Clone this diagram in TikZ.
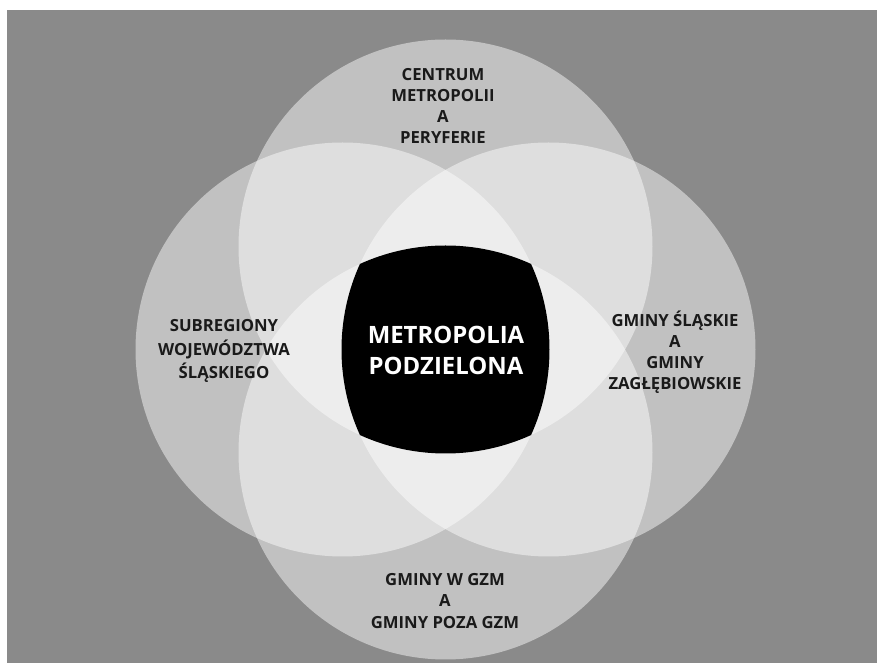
\documentclass[tikz,border=0pt]{standalone}
\usepackage{fontspec}
\setmainfont{Open Sans}
\definecolor{bggray}{RGB}{138,138,138}
\definecolor{ink}{RGB}{26,26,26}
\tikzset{
    ring/.style={fill=white, fill opacity=0.47},
    tag/.style={align=center, text=ink, inner sep=0pt,
        font=\bfseries\fontsize{9.5}{12}\selectfont},
    core/.style={align=center, text=white, inner sep=0pt,
        font=\bfseries\fontsize{13.6}{17.6}\selectfont}
}
\begin{document}
\begin{tikzpicture}[x=0.02cm, y=0.02cm]
    \useasboundingbox (0,0) rectangle (877,663);
    \fill[white] (0,0) rectangle (877,663);
    \fill[bggray] (7,0) rectangle (877,653);
    \foreach \dx/\dy in {0/103, 0/-103, -103/0, 103/0}
        \fill[ring] (445.5+\dx,313.5+\dy) circle (207);
    \begin{scope}
        \clip (445.5,416.5) circle (207);
        \clip (445.5,210.5) circle (207);
        \clip (342.5,313.5) circle (207);
        \fill[black] (548.5,313.5) circle (207);
    \end{scope}
    \node[core] (metro) at (446,313) {METROPOLIA\\PODZIELONA};
    \node[tag] (centrum) at (443,557) {CENTRUM\\METROPOLII\\A\\PERYFERIE};
    \node[tag, font=\bfseries\fontsize{9.5}{13.3}\selectfont] (subreg) at (224,312)
        {SUBREGIONY\\WOJEWÓDZTWA\\ŚLĄSKIEGO};
    \node[tag] (gminy) at (675,311) {GMINY ŚLĄSKIE\\A\\GMINY\\ZAGŁĘBIOWSKIE};
    \node[tag] (gzm) at (445,62) {GMINY W GZM\\A\\GMINY POZA GZM};
\end{tikzpicture}
\end{document}
